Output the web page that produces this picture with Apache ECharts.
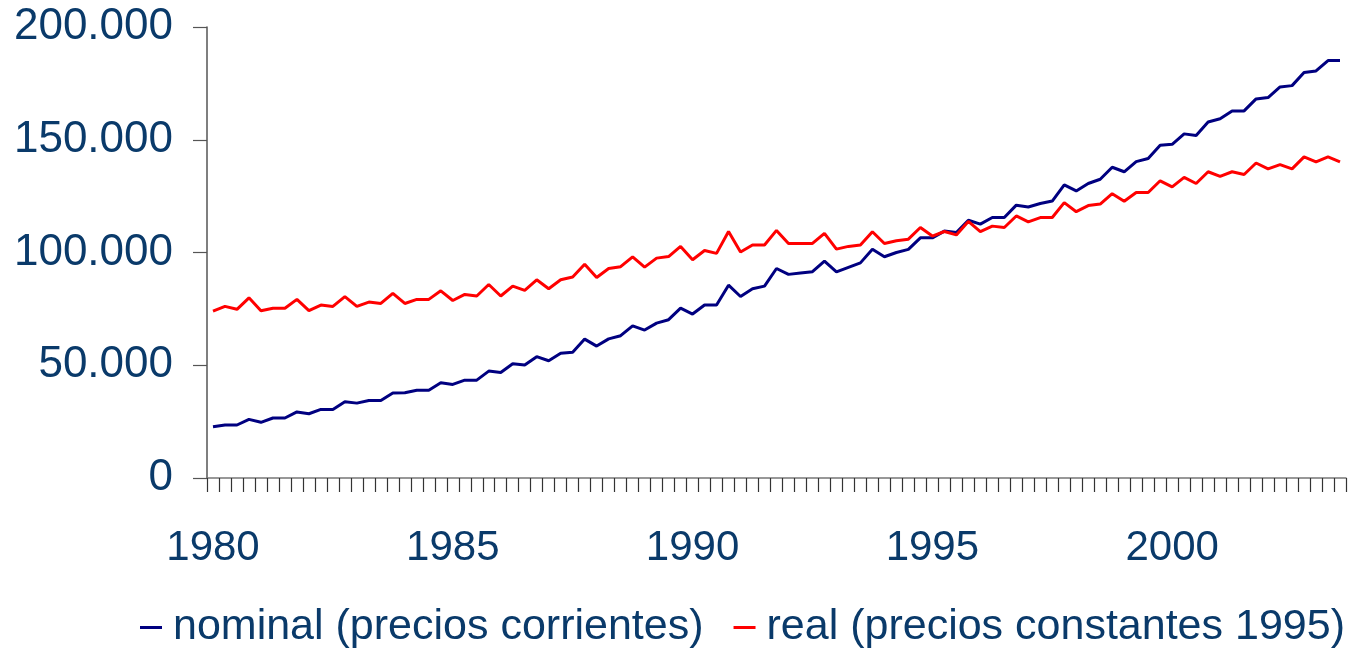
<!DOCTYPE html>
<html>
<head>
<meta charset="utf-8">
<script src="https://cdn.jsdelivr.net/npm/echarts@6/dist/echarts.min.js"></script>
<style>
  html, body { margin: 0; padding: 0; background: #ffffff; }
  #chart { width: 1352px; height: 651px; }
</style>
</head>
<body>
<div id="chart"></div>
<script>
// Quarterly data, 1980 T1 .. 2003 T3
const years = [1980,1981,1982,1983,1984,1985,1986,1987,1988,1989,1990,1991,1992,1993,1994,1995,1996,1997,1998,1999,2000,2001,2002,2003];
const quarters = ['T1','T2','T3','T4'];
const tickLabels = ['1980','1985','1990','1995','2000'];

const nominal = [
  22700,23500,23500,26000,24700,26600,26600,29300,28500,30400,
  30400,33800,33200,34400,34400,37700,37800,38900,38900,42200,
  41500,43400,43400,47400,46800,50700,50100,53800,52000,55300,
  55800,61600,58500,61700,63100,67500,65600,68700,70200,75300,
  72700,76700,76700,85500,80500,83900,85100,92900,90300,90900,
  91500,96200,91400,93400,95400,101400,98100,100000,101400,106500,
  106500,109500,108900,114300,112600,115500,115500,121000,120200,121700,
  122800,130000,127300,130600,132500,137800,135800,140300,141700,147600,
  148000,152600,151900,157900,159300,162800,162800,168100,168700,173400,
  174000,179800,180500,185100,185100
];

const real = [
  74000,76100,74800,79900,74200,75300,75300,79200,74200,76700,
  76100,80400,76100,78000,77400,81900,77400,79200,79200,83000,
  78700,81400,80700,85800,80700,85100,83200,87900,83900,87900,
  89100,94800,88900,92900,93700,98100,93500,97500,98200,102700,
  96800,100900,99600,109300,100200,103300,103300,109800,104000,104000,
  104000,108500,101500,102700,103300,109200,104000,105200,105900,111100,
  107300,109300,107800,113800,109300,111700,111100,116200,113600,115500,
  115500,122100,118100,120800,121500,126100,122700,126600,126600,131800,
  129100,133300,130600,135800,133800,135800,134600,139700,137100,139000,
  137100,142400,140200,142400,140200
];

const seriesNames = ['nominal (precios corrientes)', 'real (precios constantes 1995)'];

const categories = [];
years.forEach(y => quarters.forEach(q => categories.push(y + ' ' + q)));
const cats = categories.slice(0, nominal.length);

const textColor = '#0a3a6a';
const font = '"Liberation Sans", Arial, sans-serif';

const chart = echarts.init(document.getElementById('chart'), null, { renderer: 'canvas' });
chart.setOption({
  animation: false,
  backgroundColor: '#ffffff',
  grid: { left: 207, right: 6, top: 27, bottom: 173, containLabel: false },
  legend: {
    data: seriesNames,
    left: 140,
    top: 606,
    width: 1212,
    padding: 0,
    itemWidth: 22,
    itemHeight: 3,
    itemGap: 30,
    icon: 'rect',
    textStyle: { fontFamily: font, fontSize: 43, color: textColor, padding: [0, 0, 0, 6] }
  },
  xAxis: {
    type: 'category',
    data: cats,
    boundaryGap: true,
    axisLine: { lineStyle: { color: '#777777', width: 1.5 } },
    axisTick: { show: true, interval: 0, length: 14, lineStyle: { color: '#333333', width: 1.2 } },
    axisLabel: {
      interval: 0,
      margin: 49,
      fontFamily: font,
      fontSize: 42,
      color: textColor,
      formatter: function (v) {
        const parts = v.split(' ');
        return (parts[1] === 'T1' && tickLabels.indexOf(parts[0]) >= 0) ? parts[0] : '';
      }
    },
    splitLine: { show: false }
  },
  yAxis: {
    type: 'value',
    min: 0,
    max: 200000,
    interval: 50000,
    axisLine: { show: true, lineStyle: { color: '#555555', width: 1.5 } },
    axisTick: { show: true, length: 14, lineStyle: { color: '#555555', width: 1.2 } },
    axisLabel: {
      margin: 34,
      fontFamily: font,
      fontSize: 44,
      color: textColor,
      formatter: function (v) { return v === 0 ? '0' : (v / 1000) + '.000'; }
    },
    splitLine: { show: false }
  },
  series: [
    {
      name: seriesNames[0],
      type: 'line',
      data: nominal,
      symbol: 'none',
      lineStyle: { color: '#000080', width: 3 },
      itemStyle: { color: '#000080' }
    },
    {
      name: seriesNames[1],
      type: 'line',
      data: real,
      symbol: 'none',
      lineStyle: { color: '#ff0000', width: 3 },
      itemStyle: { color: '#ff0000' }
    }
  ]
});
</script>
</body>
</html>
